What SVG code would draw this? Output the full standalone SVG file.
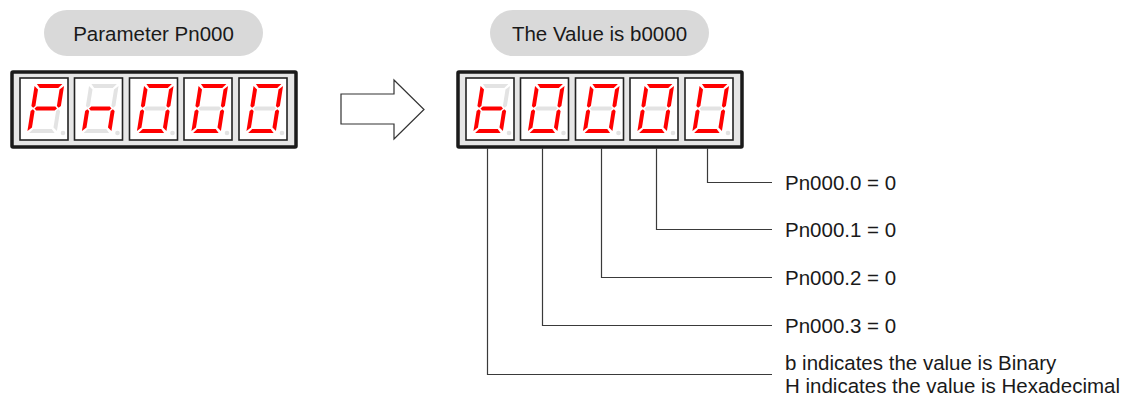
<svg xmlns="http://www.w3.org/2000/svg" width="1132" height="398" viewBox="0 0 1132 398">
<style>
.t{font-family:"Liberation Sans",Arial,sans-serif;font-size:20.5px;fill:#1a1a1a}
.pill{fill:#d9d9d9}
.frame{fill:#e6e6e6;stroke:#1a1a1a;stroke-width:3.5}
.cell{fill:#fff;stroke:#222;stroke-width:1.6}
.on{fill:#ff0000}
.off{fill:#e3e3e3}
.ln{fill:none;stroke:#3a3a3a;stroke-width:1.2}
.arrow{fill:#fff;stroke:#333;stroke-width:1.2}
</style>
<defs>
<polygon id="a" points="13,-24.5 38.5,-24.5 35,-20.5 16.5,-20.5"/>
<polygon id="b" points="40.5,-22.5 40.5,-2.5 38.5,-0.8 36.5,-2.5 36.5,-19"/>
<polygon id="c" points="40.5,22.5 40.5,2.5 38.5,0.8 36.5,2.5 36.5,19"/>
<polygon id="d" points="13,24.5 38.5,24.5 35,20.5 16.5,20.5"/>
<polygon id="e" points="11,22.5 11,2.5 13,0.8 15,2.5 15,19"/>
<polygon id="f" points="11,-22.5 11,-2.5 13,-0.8 15,-2.5 15,-19"/>
<polygon id="g" points="14.5,0 16.5,-2 35,-2 37,0 35,2 16.5,2"/>
</defs>

<g id="pill-left">
<rect class="pill" x="44" y="10" width="219" height="46" rx="23"/>
<text class="t" x="153.5" y="41" text-anchor="middle">Parameter Pn000</text>
</g>
<g id="pill-right">
<rect class="pill" x="490" y="10" width="219" height="46" rx="23"/>
<text class="t" x="599.5" y="41" text-anchor="middle">The Value is b0000</text>
</g>

<g id="display-left">
<rect class="frame" x="12" y="72" width="284" height="75" rx="1"/>
<g id="L1" transform="translate(20,78)">
<rect class="cell" width="48" height="62"/>
<g transform="translate(0,30.5) skewX(-9)">
<use href="#a" class="on"/><use href="#b" class="on"/><use href="#c" class="off"/><use href="#d" class="off"/><use href="#e" class="on"/><use href="#f" class="on"/><use href="#g" class="on"/>
</g>
<circle cx="43" cy="55" r="2.3" class="off"/>
</g>
<g id="L2" transform="translate(74.5,78)">
<rect class="cell" width="48" height="62"/>
<g transform="translate(0,30.5) skewX(-9)">
<use href="#a" class="off"/><use href="#b" class="off"/><use href="#c" class="on"/><use href="#d" class="off"/><use href="#e" class="on"/><use href="#f" class="off"/><use href="#g" class="on"/>
</g>
<circle cx="43" cy="55" r="2.3" class="off"/>
</g>
<g id="L3" transform="translate(129.5,78)">
<rect class="cell" width="48" height="62"/>
<g transform="translate(0,30.5) skewX(-9)">
<use href="#a" class="on"/><use href="#b" class="on"/><use href="#c" class="on"/><use href="#d" class="on"/><use href="#e" class="on"/><use href="#f" class="on"/><use href="#g" class="off"/>
</g>
<circle cx="43" cy="55" r="2.3" class="off"/>
</g>
<g id="L4" transform="translate(184,78)">
<rect class="cell" width="48" height="62"/>
<g transform="translate(0,30.5) skewX(-9)">
<use href="#a" class="on"/><use href="#b" class="on"/><use href="#c" class="on"/><use href="#d" class="on"/><use href="#e" class="on"/><use href="#f" class="on"/><use href="#g" class="off"/>
</g>
<circle cx="43" cy="55" r="2.3" class="off"/>
</g>
<g id="L5" transform="translate(239,78)">
<rect class="cell" width="48" height="62"/>
<g transform="translate(0,30.5) skewX(-9)">
<use href="#a" class="on"/><use href="#b" class="on"/><use href="#c" class="on"/><use href="#d" class="on"/><use href="#e" class="on"/><use href="#f" class="on"/><use href="#g" class="off"/>
</g>
<circle cx="43" cy="55" r="2.3" class="off"/>
</g>
</g>

<g id="arrow">
<polygon class="arrow" points="341,94 394,94 394,80 424,109.5 394,139 394,124 341,124"/>
</g>

<g id="display-right">
<rect class="frame" x="458" y="72" width="284" height="75" rx="1"/>
<g id="R1" transform="translate(466,78)">
<rect class="cell" width="48" height="62"/>
<g transform="translate(0,30.5) skewX(-9)">
<use href="#a" class="off"/><use href="#b" class="off"/><use href="#c" class="on"/><use href="#d" class="on"/><use href="#e" class="on"/><use href="#f" class="on"/><use href="#g" class="on"/>
</g>
<circle cx="43" cy="55" r="2.3" class="off"/>
</g>
<g id="R2" transform="translate(520.5,78)">
<rect class="cell" width="48" height="62"/>
<g transform="translate(0,30.5) skewX(-9)">
<use href="#a" class="on"/><use href="#b" class="on"/><use href="#c" class="on"/><use href="#d" class="on"/><use href="#e" class="on"/><use href="#f" class="on"/><use href="#g" class="off"/>
</g>
<circle cx="43" cy="55" r="2.3" class="off"/>
</g>
<g id="R3" transform="translate(575.5,78)">
<rect class="cell" width="48" height="62"/>
<g transform="translate(0,30.5) skewX(-9)">
<use href="#a" class="on"/><use href="#b" class="on"/><use href="#c" class="on"/><use href="#d" class="on"/><use href="#e" class="on"/><use href="#f" class="on"/><use href="#g" class="off"/>
</g>
<circle cx="43" cy="55" r="2.3" class="off"/>
</g>
<g id="R4" transform="translate(630,78)">
<rect class="cell" width="48" height="62"/>
<g transform="translate(0,30.5) skewX(-9)">
<use href="#a" class="on"/><use href="#b" class="on"/><use href="#c" class="on"/><use href="#d" class="on"/><use href="#e" class="on"/><use href="#f" class="on"/><use href="#g" class="off"/>
</g>
<circle cx="43" cy="55" r="2.3" class="off"/>
</g>
<g id="R5" transform="translate(685,78)">
<rect class="cell" width="48" height="62"/>
<g transform="translate(0,30.5) skewX(-9)">
<use href="#a" class="on"/><use href="#b" class="on"/><use href="#c" class="on"/><use href="#d" class="on"/><use href="#e" class="on"/><use href="#f" class="on"/><use href="#g" class="off"/>
</g>
<circle cx="43" cy="55" r="2.3" class="off"/>
</g>
</g>

<g id="connectors">
<path class="ln" d="M707.5,148 V182.5 H772"/>
<path class="ln" d="M656.5,148 V229.5 H772"/>
<path class="ln" d="M601.5,148 V277.5 H772"/>
<path class="ln" d="M542.5,148 V325.5 H772"/>
<path class="ln" d="M487.5,148 V374.5 H772"/>
</g>

<g id="labels">
<text class="t" x="785" y="190">Pn000.0 = 0</text>
<text class="t" x="785" y="237">Pn000.1 = 0</text>
<text class="t" x="785" y="285">Pn000.2 = 0</text>
<text class="t" x="785" y="333">Pn000.3 = 0</text>
<text class="t" x="785" y="370">b indicates the value is Binary</text>
<text class="t" x="785" y="393">H indicates the value is Hexadecimal</text>
</g>
</svg>
